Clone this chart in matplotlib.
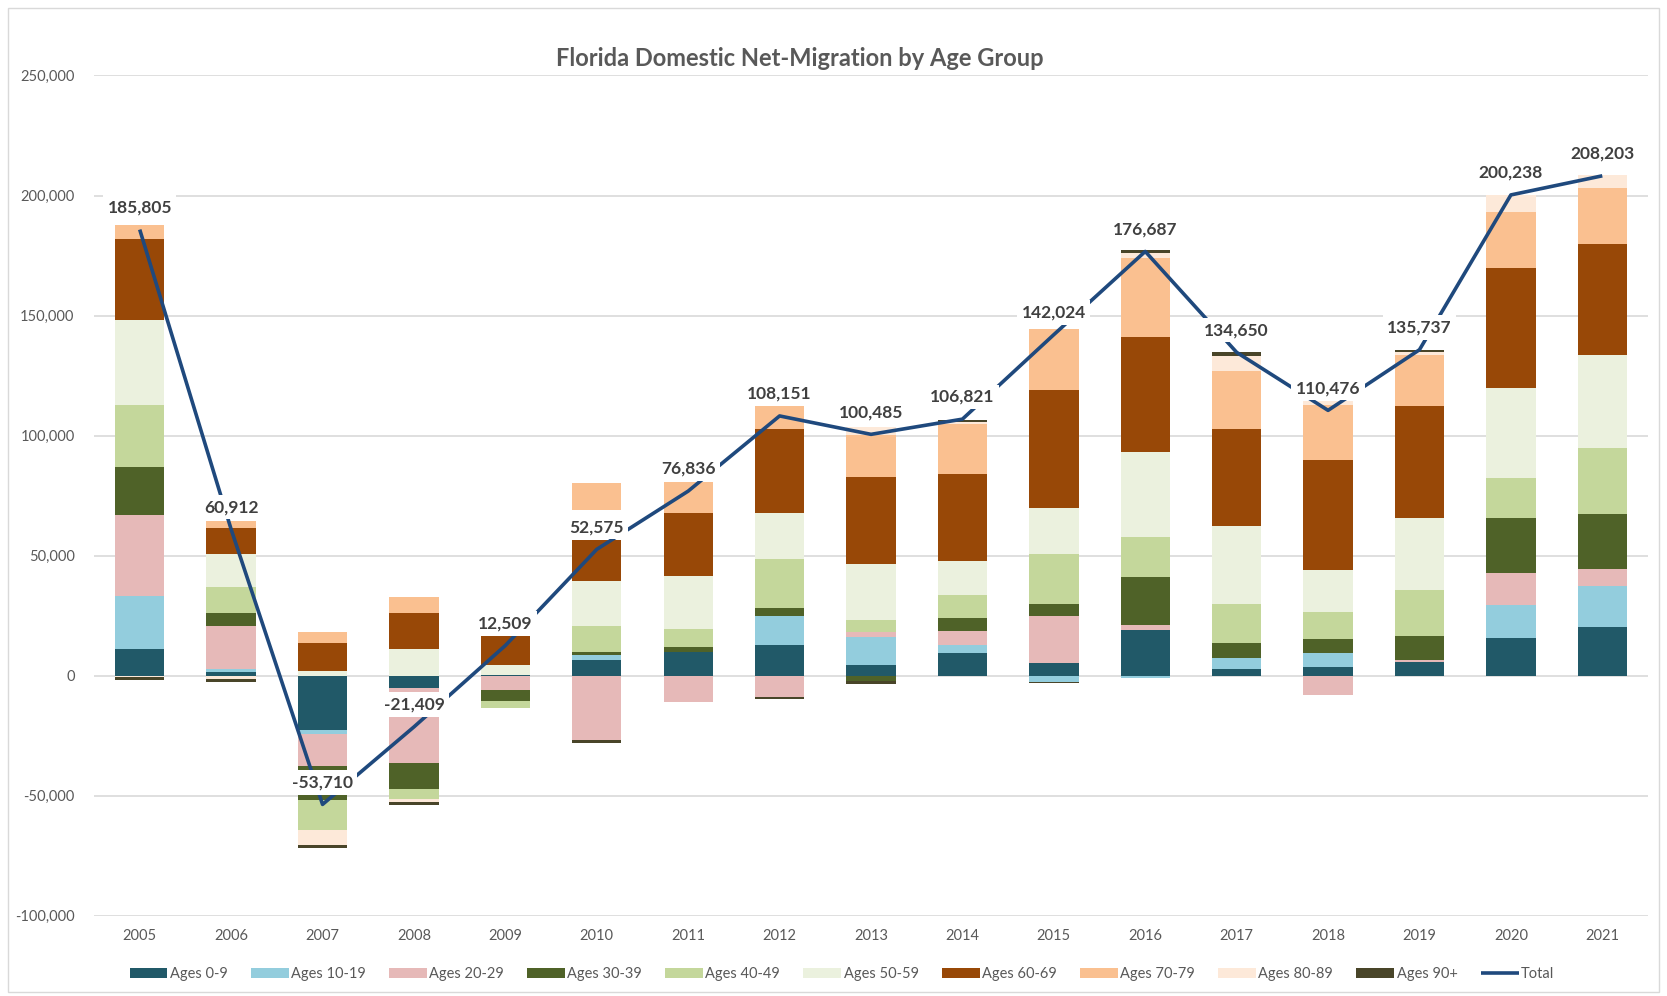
import numpy as np
import matplotlib
matplotlib.use("Agg")
import matplotlib.pyplot as plt
from matplotlib.patches import Rectangle
from matplotlib.ticker import FuncFormatter

plt.rcParams['font.family'] = ['Lato', 'DejaVu Sans']

years = [str(y) for y in range(2005, 2022)]

# segment values (people)
age_0_9   = [11150, 1500, -22700, -5000, 300, 6540, 9600, 12800, 4450, 9300, 5150, 19050, 2650, 3550, 5550, 15750, 20200]
age_10_19 = [21900, 1300, -1500, 0, 0, 1800, 300, 12100, 11500, 3500, -2900, -1100, 4850, 5850, 0, 13750, 17000]
age_20_29 = [33800, 17700, -13600, -31300, -6000, -26850, -10850, -9050, 2200, 5850, 19450, 1800, 0, -8000, 900, 13250, 7250]
age_30_39 = [19900, 5600, -14100, -11150, -4600, 1250, 1800, 3050, -2200, 5300, 5300, 20150, 6250, 6000, 9900, 23000, 23000]
age_40_49 = [26000, 10600, -12600, -4100, -2800, 10850, 7650, 20700, 5000, 9700, 20850, 16800, 16100, 11250, 19300, 16500, 27300]
age_50_59 = [35300, 14100, 1900, 11150, 4200, 18900, 22250, 19050, 23350, 14150, 19150, 35400, 32650, 17150, 29800, 37500, 38900]
age_60_69 = [33800, 10600, 11700, 14900, 12000, 17250, 26150, 35200, 36400, 36250, 49150, 47650, 40400, 45850, 46900, 49850, 46000]
unfilled  = [0, 0, 0, 0, 0, 12500, 0, 0, 0, 0, 0, 0, 0, 0, 0, 0, 0]
age_70_79 = [5800, 2800, 4650, 6500, 0, 11100, 12800, 9300, 17350, 20550, 25400, 33100, 24150, 23000, 21300, 23450, 23450]
age_80_89 = [-500, -1500, -5950, -1100, 0, 0, 0, 0, 3200, 1000, 0, 2200, 6100, 1550, 1250, 7250, 5400]
age_90p   = [-1200, -1300, -1500, -1300, 0, -1100, 0, -550, -1250, 1000, -400, 1300, 1550, 0, 600, 0, 0]

total = [185805, 60912, -53710, -21409, 12509, 52575, 76836, 108151, 100485,
         106821, 142024, 176687, 134650, 110476, 135737, 200238, 208203]

series = [
    ("Ages 0-9", age_0_9, "#215968"),
    ("Ages 10-19", age_10_19, "#93CDDD"),
    ("Ages 20-29", age_20_29, "#E6B9B8"),
    ("Ages 30-39", age_30_39, "#4F6228"),
    ("Ages 40-49", age_40_49, "#C4D79B"),
    ("Ages 50-59", age_50_59, "#EBF1DE"),
    ("Ages 60-69", age_60_69, "#984807"),
    (None, unfilled, "none"),
    ("Ages 70-79", age_70_79, "#FAC090"),
    ("Ages 80-89", age_80_89, "#FDE9D9"),
    ("Ages 90+", age_90p, "#494529"),
]

fig = plt.figure(figsize=(16.67, 9.96), dpi=100)
ax = fig.add_axes([0.0564, 0.0808, 0.9322, 0.8434])

x = np.arange(len(years))
pos = np.zeros(len(years))
neg = np.zeros(len(years))
handles = []
for name, vals, col in series:
    v = np.array(vals, dtype=float)
    bottom = np.where(v >= 0, pos, neg)
    b = ax.bar(x, v, 0.54, bottom=bottom, color=col, linewidth=0, zorder=2)
    if name:
        b.set_label(name)
        handles.append(b)
    pos = pos + np.where(v >= 0, v, 0)
    neg = neg + np.where(v < 0, v, 0)

ln, = ax.plot(x, total, color="#1F497D", lw=2.6, zorder=4, label="Total",
              solid_capstyle="butt")
handles.append(ln)

for xi, t in zip(x, total):
    ax.annotate(f"{t:,}", (xi, t), xytext=(0, 16), textcoords="offset points",
                ha="center", va="center", fontsize=12.5, fontweight="bold",
                color="#404040", zorder=5,
                bbox=dict(boxstyle="square,pad=0.25", fc="white", ec="none"))

ax.set_xlim(-0.5, len(years) - 0.5)
ax.set_ylim(-100000, 250000)
ax.set_yticks(np.arange(-100000, 250001, 50000))
ax.yaxis.set_major_formatter(FuncFormatter(lambda v, p: f"{int(v):,}"))
ax.set_xticks(x)
ax.set_xticklabels(years)
ax.grid(axis="y", color="#D9D9D9", lw=1.2, zorder=0)
ax.set_axisbelow(True)
for s in ax.spines.values():
    s.set_visible(False)
ax.tick_params(axis="y", length=0, pad=14, labelsize=10.5, labelcolor="#595959")
ax.tick_params(axis="x", length=0, pad=10, labelsize=10.5, labelcolor="#595959")

fig.text(0.48, 0.941, "Florida Domestic Net-Migration by Age Group", ha="center",
         va="center", fontsize=17, fontweight="bold", color="#595959")

leg = fig.legend(handles=handles, loc="center", bbox_to_anchor=(0.505, 0.022),
                 ncol=11, frameon=False, fontsize=10.5, handlelength=2.6,
                 handleheight=0.6, handletextpad=0.15, columnspacing=1.6)
for t in leg.get_texts():
    t.set_color("#595959")

fig.patches.append(Rectangle((0.005, 0.004), 0.99, 0.988, transform=fig.transFigure,
                             fill=False, ec="#D9D9D9", lw=1))

fig.savefig("out.png", dpi=100)
